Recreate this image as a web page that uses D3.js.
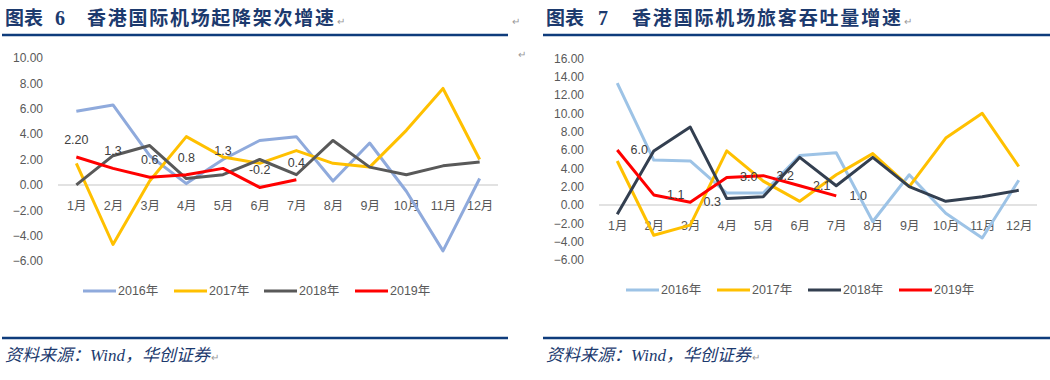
<!DOCTYPE html>
<html>
<head>
<meta charset="utf-8">
<script src="https://cdn.jsdelivr.net/npm/d3@7"></script>
<style>
  html, body { margin: 0; padding: 0; background: #fff; }
  svg { display: block; }
</style>
</head>
<body>
<svg id="chart" width="1050" height="380"></svg>
<script>
// ---------- DATA ----------
const months = ["1月","2月","3月","4月","5月","6月","7月","8月","9月","10月","11月","12月"];
const years = ["2016年","2017年","2018年","2019年"];

// Chart 6: 起降架次增速 (%)
const flights2016 = [5.8, 6.3, 2.3, 0.1, 2.0, 3.5, 3.8, 0.3, 3.3, -0.5, -5.2, 0.5];
const flights2017 = [1.7, -4.7, 0.3, 3.8, 2.2, 1.7, 2.7, 1.7, 1.4, 4.3, 7.6, 2.0];
const flights2018 = [0.0, 2.3, 3.1, 0.5, 0.8, 2.0, 0.8, 3.5, 1.4, 0.8, 1.5, 1.8];
const flights2019 = [2.2, 1.3, 0.6, 0.8, 1.3, -0.2, 0.4];
const flightLabels2019 = ["2.20", "1.3", "0.6", "0.8", "1.3", "-0.2", "0.4"];
const flightTicks = [-6, -4, -2, 0, 2, 4, 6, 8, 10];

// Chart 7: 旅客吞吐量增速 (%)
const pax2016 = [13.3, 4.9, 4.8, 1.3, 1.3, 5.4, 5.7, -1.8, 3.3, -0.9, -3.6, 2.7];
const pax2017 = [4.8, -3.3, -2.2, 5.9, 2.6, 0.4, 3.3, 5.6, 2.0, 7.3, 10.0, 4.2];
const pax2018 = [-1.0, 5.9, 8.5, 0.7, 0.9, 5.2, 2.1, 5.2, 2.0, 0.4, 0.9, 1.6];
const pax2019 = [6.0, 1.1, 0.3, 3.0, 3.2, 2.1, 1.0];
const paxLabels2019 = ["6.0", "1.1", "0.3", "3.0", "3.2", "2.1", "1.0"];
const paxTicks = [-6, -4, -2, 0, 2, 4, 6, 8, 10, 12, 14, 16];

// ---------- DRAW ----------
const svg = d3.select("#chart");
const TITLE_BLUE = "#1c3a6e";
const TEXT = "#595959";
const FONT = "'Liberation Sans', Arial, 'Noto Sans CJK SC', sans-serif";

function header(x0, x1, num, numX, titleX, titleText, titleEnd, retX) {
  const g = svg.append("g");
  const f = "'Noto Sans CJK SC', sans-serif";
  g.append("text").attr("x", x0 + 3).attr("y", 25).text("图表")
    .attr("font-family", f).attr("font-weight", "bold").attr("font-size", 19)
    .attr("fill", TITLE_BLUE);
  g.append("text").attr("x", numX).attr("y", 25).text(num)
    .attr("font-family", "'Liberation Serif', serif").attr("font-weight", "bold").attr("font-size", 20)
    .attr("fill", TITLE_BLUE);
  g.append("text").attr("x", titleX).attr("y", 25).text(titleText)
    .attr("font-family", f).attr("font-weight", "bold").attr("font-size", 19)
    .attr("textLength", titleEnd - titleX).attr("lengthAdjust", "spacing")
    .attr("fill", TITLE_BLUE);
  g.append("text").attr("x", titleEnd + 3).attr("y", 25).text("↵")
    .attr("font-family", FONT).attr("font-size", 10).attr("fill", "#999");
  if (retX) {
    g.append("text").attr("x", retX).attr("y", 25).text("↵")
      .attr("font-family", FONT).attr("font-size", 10).attr("fill", "#999");
  }
  g.append("line").attr("x1", x0).attr("x2", x1).attr("y1", 35).attr("y2", 35)
    .attr("stroke", "#0f3c7c").attr("stroke-width", 2.5);
  // footer
  g.append("line").attr("x1", x0).attr("x2", x1).attr("y1", 338).attr("y2", 338)
    .attr("stroke", "#0f3c7c").attr("stroke-width", 2.5);
  const src = g.append("text").attr("x", x0 + 3).attr("y", 361)
    .attr("font-family", "'Liberation Serif', 'Noto Sans CJK SC', serif")
    .attr("font-style", "italic").attr("font-size", 17).attr("fill", TITLE_BLUE)
    .text("资料来源：Wind，华创证券");
  const w = src.node().getComputedTextLength();
  g.append("text").attr("x", x0 + 4 + w).attr("y", 361).text("↵")
    .attr("font-family", FONT).attr("font-size", 10).attr("fill", "#999");
}

function chart(cfg) {
  const g = svg.append("g");
  const x = d3.scalePoint().domain(months).range([cfg.xl, cfg.xr]).padding(0.5);
  const y = d3.scaleLinear().domain(cfg.domain).range(cfg.yRange);

  // y axis labels
  const ya = d3.axisLeft(y).tickValues(cfg.ticks).tickFormat(d3.format(".2f"))
    .tickSize(0).tickPadding(3);
  const yg = g.append("g").attr("transform", `translate(${cfg.yAxisX},0)`).call(ya);
  yg.select(".domain").remove();
  yg.selectAll("text").attr("font-family", FONT).attr("font-size", 12).attr("fill", TEXT);

  // zero line
  g.append("line").attr("x1", cfg.xl).attr("x2", cfg.xr)
    .attr("y1", y(0)).attr("y2", y(0)).attr("stroke", "#d9d9d9").attr("stroke-width", 1.5);

  // x axis labels
  const xa = d3.axisBottom(x).tickSize(0).tickPadding(5);
  const xg = g.append("g").attr("transform", `translate(0,${cfg.xAxisY})`).call(xa);
  xg.select(".domain").remove();
  xg.selectAll("text").attr("font-family", FONT).attr("font-size", 12.5).attr("fill", TEXT);

  const line = d3.line().x((d, i) => x(months[i])).y(d => y(d));
  cfg.series.forEach((s, k) => {
    g.append("path").datum(s).attr("d", line).attr("fill", "none")
      .attr("stroke", cfg.colors[k]).attr("stroke-width", 3)
      .attr("stroke-linejoin", "round");
  });

  // data labels for 2019
  const last = cfg.series[3];
  g.selectAll(".lbl").data(last).enter().append("text")
    .attr("x", (d, i) => x(months[i]) + cfg.lblDx)
    .attr("y", (d) => y(d) + cfg.lblDy)
    .attr("text-anchor", "middle")
    .attr("dominant-baseline", "central")
    .attr("font-family", FONT).attr("font-size", 12.5).attr("fill", "#404040")
    .text((d, i) => cfg.labels[i]);

  // legend
  const lg = g.append("g");
  years.forEach((yr, k) => {
    const lx = cfg.legendX[k];
    lg.append("line").attr("x1", lx).attr("x2", lx + 33)
      .attr("y1", cfg.legendY).attr("y2", cfg.legendY)
      .attr("stroke", cfg.colors[k]).attr("stroke-width", 3);
    lg.append("text").attr("x", lx + 35).attr("y", cfg.legendY)
      .attr("dominant-baseline", "central")
      .attr("font-family", FONT).attr("font-size", 12.5).attr("fill", TEXT)
      .text(yr);
  });
}

header(2, 508, "6", 55, 87, "香港国际机场起降架次增速", 334, 512);
header(543, 1050, "7", 598, 632, "香港国际机场旅客吞吐量增速", 901, null);

// stray paragraph mark inside left chart
svg.append("text").attr("x", 518).attr("y", 58).text("↵")
  .attr("font-family", FONT).attr("font-size", 10).attr("fill", "#999");

chart({
  xl: 58, xr: 498,
  domain: [-6, 10], yRange: [261, 58],
  ticks: flightTicks, yAxisX: 46, xAxisY: 196,
  series: [flights2016, flights2017, flights2018, flights2019],
  colors: ["#8faadc", "#ffc000", "#595959", "#ff0000"],
  labels: flightLabels2019, lblDx: 0, lblDy: -17,
  legendX: [83, 174, 264, 355], legendY: 291
});

chart({
  xl: 599, xr: 1037,
  domain: [-6, 16], yRange: [260, 58.3],
  ticks: paxTicks, yAxisX: 587, xAxisY: 216,
  series: [pax2016, pax2017, pax2018, pax2019],
  colors: ["#9dc3e6", "#ffc000", "#333f50", "#ff0000"],
  labels: paxLabels2019, lblDx: 22, lblDy: 0,
  legendX: [626, 717, 808, 899], legendY: 290
});
</script>
</body>
</html>
